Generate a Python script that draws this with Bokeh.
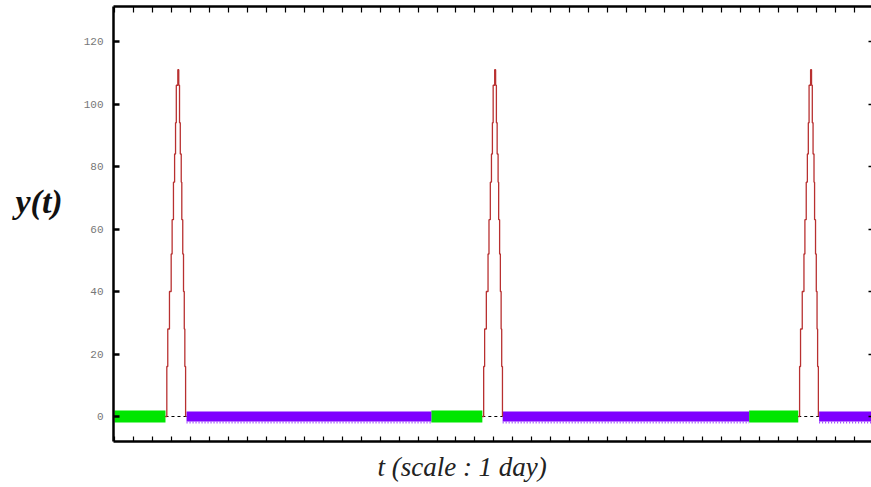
from bokeh.plotting import figure
from bokeh.models import (LinearAxis, SingleIntervalTicker, FixedTicker, Range1d,
                          CustomJSTickFormatter)
from bokeh.embed import file_html
from bokeh.resources import INLINE

# ---- data (t in days) ----
green_start = [-1.00, 15.70, 32.45]
spike_start = [1.69, 18.39, 35.04]
purple_start = [2.80, 19.46, 36.14]
purple_end = [15.70, 32.45, 38.90]

# one spike (time offset from its start, value)
spike_offsets = [0.00, 0.07, 0.12, 0.21, 0.30, 0.35, 0.42, 0.48, 0.53, 0.57, 0.65,
                 0.70, 0.74, 0.78, 0.83, 0.86, 0.91, 0.95, 0.99, 1.02, 1.06]
spike_values = [0, 16, 28, 40, 52, 63, 75, 84, 94, 106, 111,
                106, 94, 84, 75, 63, 52, 40, 28, 16, 0]

y_ticks = [0, 20, 40, 60, 80, 100, 120]
zero = [0, 0, 0]

p = figure(width=871, height=487,
           x_range=Range1d(-1.05, 38.9), y_range=Range1d(-8, 131.2),
           output_backend="svg", toolbar_location=None,
           x_axis_type=None, y_axis_type=None,
           min_border_left=113, min_border_right=0,
           min_border_top=6, min_border_bottom=46)
p.outline_line_color = None
p.background_fill_color = "white"
p.border_fill_color = "white"

blank = CustomJSTickFormatter(code="return ''")

# axes
left = LinearAxis(ticker=FixedTicker(ticks=y_ticks), axis_line_width=2.5,
                  major_tick_in=6, major_tick_out=0, major_tick_line_width=2.5,
                  minor_tick_line_color=None,
                  major_label_text_font="Liberation Mono",
                  major_label_text_font_size="11px",
                  major_label_text_color="#777777",
                  major_label_standoff=10,
                  axis_label="y(t)\n\u00a0",
                  axis_label_orientation="horizontal",
                  axis_label_text_font="Liberation Serif",
                  axis_label_text_font_style="bold italic",
                  axis_label_text_font_size="34px",
                  axis_label_text_color="#111111",
                  axis_label_standoff=18)
p.add_layout(left, "left")

bottom = LinearAxis(ticker=SingleIntervalTicker(interval=1, num_minor_ticks=0),
                    formatter=blank,
                    axis_line_width=2.5, major_tick_in=5, major_tick_out=0,
                    major_tick_line_width=1.2, minor_tick_line_color=None,
                    major_label_standoff=0,
                    axis_label="t (scale : 1 day)" + "\u00a0" * 9,
                    axis_label_text_font="Liberation Serif",
                    axis_label_text_font_style="italic",
                    axis_label_text_font_size="27px",
                    axis_label_text_color="#222222",
                    axis_label_standoff=10)
p.add_layout(bottom, "below")

top = LinearAxis(ticker=SingleIntervalTicker(interval=1, num_minor_ticks=0),
                 formatter=blank,
                 axis_line_width=2.5, major_tick_in=6, major_tick_out=0,
                 major_tick_line_width=1.2, minor_tick_line_color=None,
                 major_label_standoff=0)
p.add_layout(top, "above")

right = LinearAxis(ticker=FixedTicker(ticks=y_ticks), formatter=blank,
                   axis_line_color=None,
                   major_tick_in=3, major_tick_out=0, major_tick_line_width=1.5,
                   minor_tick_line_color=None, major_label_standoff=0)
p.add_layout(right, "right")

# bands
p.segment(x0=green_start, y0=zero, x1=spike_start, y1=zero,
          line_color="#00e600", line_width=12, line_cap="butt")
p.segment(x0=purple_start, y0=zero, x1=purple_end, y1=zero,
          line_color="#7f00ff", line_width=10, line_cap="butt")
p.segment(x0=purple_start, y0=[-1.9] * 3, x1=purple_end, y1=[-1.9] * 3,
          line_color="#9a40ff", line_width=2, line_dash="1 2", line_cap="butt")
p.segment(x0=spike_start, y0=zero, x1=purple_start, y1=zero,
          line_color="black", line_width=1, line_dash="3 3")

# spikes
for s in spike_start:
    p.step(x=[s + o for o in spike_offsets], y=spike_values, mode="after",
           line_color="#b83030", line_width=1.3)

open("out.html", "w").write(file_html(p, INLINE))
